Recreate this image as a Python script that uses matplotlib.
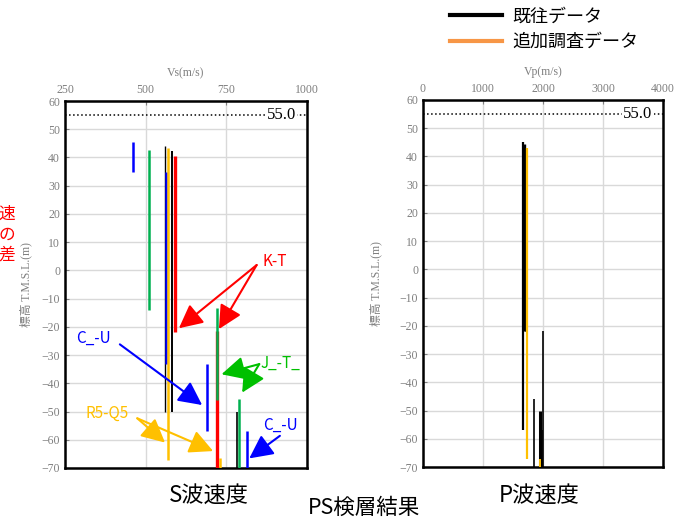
"""PS検層結果: S波速度とP波速度の深度分布を2枚の図で並べて描く。"""

import matplotlib
matplotlib.use("Agg")
import matplotlib.pyplot as plt
from matplotlib.lines import Line2D

CJK = ["Noto Sans CJK JP", "DejaVu Sans"]
SERIF = ["Liberation Serif", "Noto Sans CJK JP"]
plt.rcParams["font.family"] = CJK

COLORS = {"k": "#000000", "b": "#0000FF", "g": "#00B050",
          "y": "#FFC000", "r": "#FF0000"}

# S波速度 (m/s), 区間上端/下端標高 (m)
S_VS = [462, 510, 560, 562, 570, 582, 591, 691, 722, 721, 730, 782, 790, 813]
S_TOP = [45.3, 42.5, 44.0, 35.0, 43.3, 42.2, 40.5, -33.0, -21.5, -13.5, -66.5, -50.0, -45.5, -57.0]
S_BOT = [35.0, -14.0, -50.0, -33.0, -67.0, -50.0, -22.0, -57.0, -71, -46.0, -71, -71, -71, -71]
S_CLR = ["b", "g", "k", "b", "y", "k", "r", "b", "r", "g", "y", "k", "g", "b"]
S_LW = [1.8, 1.8, 1.0, 1.8, 1.8, 1.4, 2.4, 1.8, 2.4, 1.8, 1.8, 1.2, 1.8, 1.8]

# P波速度 (m/s)
P_VP = [1665, 1685, 1705, 1730, 1855, 1945, 1950, 1978, 2000]
P_TOP = [45.0, 44.5, 40.5, 43.0, -46.0, -50.0, -67.0, -57.0, -21.7]
P_BOT = [-57.0, -22.0, -22.0, -67.0, -71, -71, -71, -71, -71]
P_CLR = ["k", "k", "k", "y", "k", "k", "y", "k", "k"]
P_LW = [1.6, 2.4, 1.0, 1.6, 1.2, 2.2, 1.4, 1.2, 1.2]

GL = 55.0  # 地盤高

# 注記: (文字, 色, 文字位置, [(矢印元, 矢印先), ...])
NOTES = [
    ("K-T", "#FF0000", (862, 3.0), [((844, 1.9), (603, -20.5)), ((844, 1.9), (727, -20.8))]),
    ("C_-U", "#0000FF", (284, -24.0), [((420, -26.2), (675, -47.7))]),
    ("J_-T_", "#00C000", (857, -32.9), [((852, -33.2), (735, -36.8)), ((852, -33.2), (799, -43.3))]),
    ("R5-Q5", "#FFC000", (312, -50.6), [((474, -52.4), (560, -61.0)), ((474, -52.4), (709, -64.0))]),
    ("C_-U", "#0000FF", (864, -54.8), [((916, -58.6), (821, -66.6))]),
]


def setup_axes(ax, xlim, xticks, xlabel, label_x):
    ax.set_xlim(*xlim)
    ax.set_ylim(-70, 60)
    ax.set_xticks(xticks)
    ax.set_yticks(range(-70, 61, 10))
    ax.xaxis.tick_top()
    ax.xaxis.set_label_position("top")
    ax.tick_params(direction="in", length=3, colors="#7f7f7f", labelsize=8.5,
                   top=True, bottom=False, right=False, labelcolor="#7f7f7f")
    for lab in ax.get_xticklabels() + ax.get_yticklabels():
        lab.set_family(SERIF)
    ax.set_xlabel(xlabel, family=SERIF, fontsize=8.5, color="#7f7f7f", labelpad=6)
    ax.set_ylabel("標高 T.M.S.L.(m)", family=SERIF, fontsize=8.5, color="#7f7f7f")
    ax.yaxis.set_label_coords(label_x, 0.5)
    ax.grid(color="#d9d9d9", lw=1)
    ax.set_axisbelow(True)
    for sp in ax.spines.values():
        sp.set_linewidth(1.8)
        sp.set_color("black")
    ax.axhline(GL, ls=":", color="black", lw=1.1, zorder=1)
    ax.text(0.955, GL, f"{GL:.1f}", transform=ax.get_yaxis_transform(),
            ha="right", va="center", family=SERIF, fontsize=12,
            bbox=dict(fc="white", ec="none", pad=1), zorder=2)


fig = plt.figure(figsize=(6.84, 5.2), dpi=100)
ax_s = fig.add_axes([65 / 684, 52 / 520, 242 / 684, 367 / 520])
ax_p = fig.add_axes([423 / 684, 53 / 520, 240 / 684, 367 / 520])

setup_axes(ax_s, (250, 1000), [250, 500, 750, 1000], "Vs(m/s)", -0.136)
setup_axes(ax_p, (0, 4000), [0, 1000, 2000, 3000, 4000], "Vp(m/s)", -0.171)

ax_s.vlines(S_VS, S_BOT, S_TOP, colors=[COLORS[c] for c in S_CLR],
            linewidths=S_LW, zorder=3)
ax_p.vlines(P_VP, P_BOT, P_TOP, colors=[COLORS[c] for c in P_CLR],
            linewidths=P_LW, zorder=3)

for label, color, pos, arrows in NOTES:
    ax_s.text(pos[0], pos[1], label, color=color, fontsize=11,
              ha="left", va="center", clip_on=False, zorder=5)
    for tail, head in arrows:
        ax_s.annotate("", xy=head, xytext=tail, zorder=5,
                      arrowprops=dict(arrowstyle="-|>,head_length=0.8,head_width=0.4",
                                      mutation_scale=18, color=color, lw=1.5,
                                      shrinkA=0, shrinkB=0))

handles = [Line2D([], [], color="black", lw=3),
           Line2D([], [], color="#F79646", lw=3)]
fig.legend(handles, ["既往データ", "追加調査データ"], loc="upper left",
           bbox_to_anchor=(450 / 684, 0.985), frameon=False, fontsize=13,
           handlelength=2.9, handletextpad=0.55, labelspacing=0.4,
           borderpad=0, borderaxespad=0)

fig.text(209 / 684, 1 - 495 / 520, "S波速度", ha="center", va="center", fontsize=16)
fig.text(539 / 684, 1 - 495 / 520, "P波速度", ha="center", va="center", fontsize=16)
fig.text(364 / 684, 1 - 508 / 520, "PS検層結果", ha="center", va="center", fontsize=15.5)
fig.text(7 / 684, 1 - 235 / 520, "速\nの\n差", ha="center", va="center",
         color="red", fontsize=12, linespacing=1.25)

fig.savefig("out.png", dpi=100)
